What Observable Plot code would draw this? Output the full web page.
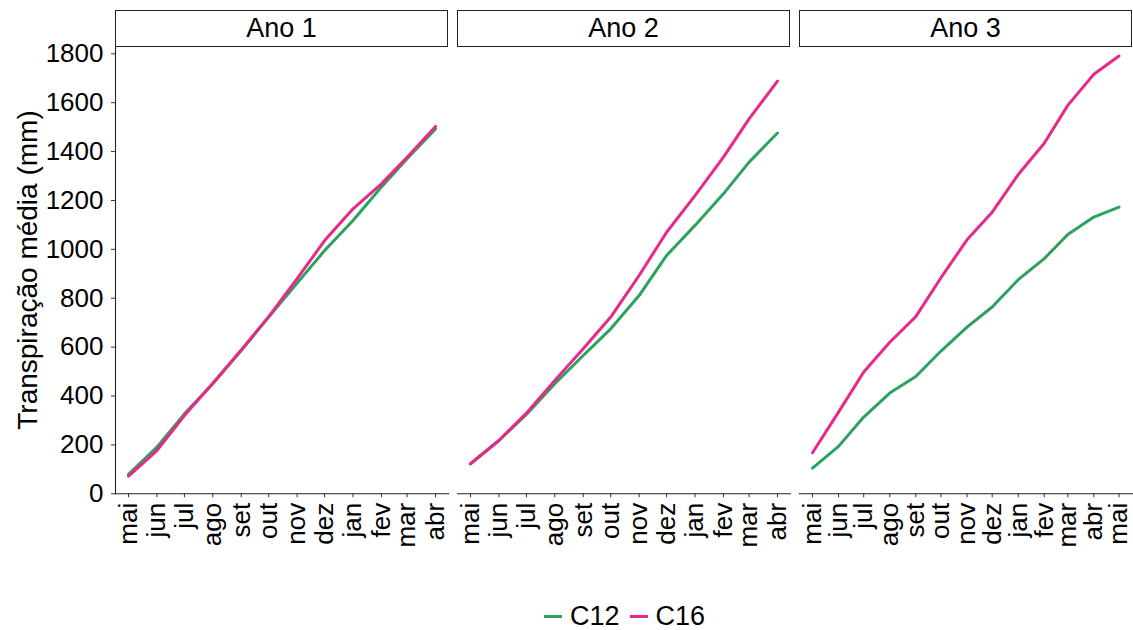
<!DOCTYPE html>
<html>
<head>
<meta charset="utf-8">
<script src="https://cdn.jsdelivr.net/npm/d3@7"></script>
<script src="https://cdn.jsdelivr.net/npm/@observablehq/plot@0.6"></script>
<style>
  body { margin: 0; background: #fff; font-family: "Liberation Sans", Arial, sans-serif; }
  #chart { position: relative; width: 1133px; height: 630px; overflow: hidden; background: #fff; }
  .strip { position: absolute; top: 10px; height: 37px; box-sizing: border-box; border: 1.2px solid #222;
           display: flex; align-items: center; justify-content: center; font-size: 27px; color: #000; background: #fff; }
  .panel { position: absolute; top: 47px; }
  .ytitle { position: absolute; left: 28px; top: 270px; transform: translate(-50%, -50%) rotate(-90deg);
            white-space: nowrap; font-size: 28px; color: #000; }
  .legend { position: absolute; top: 601px; left: 544px; display: flex; align-items: center;
            font-size: 27px; color: #000; white-space: nowrap; }
  .legend .sw { display: inline-block; width: 18px; height: 3px; margin-right: 8px; }
  .legend .item { display: flex; align-items: center; margin-right: 10px; }
</style>
</head>
<body>
<div id="chart"></div>
<script>
// ---- data ----
const monthLabels = ["jan", "fev", "mar", "abr", "mai", "jun", "jul", "ago", "set", "out", "nov", "dez"];
const yTicks = [0, 200, 400, 600, 800, 1000, 1200, 1400, 1600, 1800];
const seriesNames = ["C12", "C16"];
const seriesColors = ["#2ca25f", "#e7298a"];
const panelNames = ["Ano 1", "Ano 2", "Ano 3"];
const panelStartYear = [2012, 2013, 2014]; // each panel starts in "mai"

const ano1_C12 = [80, 191, 327, 450, 586, 723, 862, 995, 1118, 1255, 1371, 1493];
const ano1_C16 = [72, 177, 320, 452, 588, 725, 880, 1036, 1166, 1268, 1377, 1503];
const ano2_C12 = [123, 218, 325, 450, 566, 675, 811, 975, 1098, 1227, 1357, 1476];
const ano2_C16 = [123, 218, 330, 464, 593, 723, 893, 1070, 1220, 1377, 1534, 1688];
const ano3_C12 = [105, 194, 314, 412, 480, 584, 682, 764, 876, 962, 1061, 1132, 1173];
const ano3_C16 = [168, 334, 498, 620, 725, 884, 1039, 1152, 1306, 1434, 1589, 1716, 1791];

const panelSeries = [
  [ano1_C12, ano1_C16],
  [ano2_C12, ano2_C16],
  [ano3_C12, ano3_C16]
];

// ---- layout ----
const panelLeft = [0, 457, 799];
const panelWidth = [448, 333, 333];
const panelMarginLeft = [115, 0, 0];
const panelHeight = 513;

const chart = document.getElementById("chart");
const font = '"Liberation Sans", Arial, sans-serif';

panelNames.forEach((name, p) => {
  const [c12, c16] = panelSeries[p];
  const n = c12.length;
  const dates = d3.range(n).map(i => new Date(Date.UTC(panelStartYear[p], 4 + i, 1)));
  const rows = [];
  [c12, c16].forEach((vals, s) => vals.forEach((v, i) => rows.push({date: dates[i], value: v, series: seriesNames[s]})));

  const marks = [
    Plot.frame({anchor: "bottom", stroke: "#222", strokeWidth: 1.1}),
    Plot.axisX({ticks: dates, tickRotate: -90, tickSize: 4, tickPadding: 5, fontSize: 26,
                tickFormat: d => monthLabels[d.getUTCMonth()], label: null, stroke: "#333"}),
    Plot.line(rows, {x: "date", y: "value", z: "series", stroke: "series", strokeWidth: 3})
  ];
  if (p === 0) {
    marks.unshift(Plot.frame({anchor: "left", stroke: "#222", strokeWidth: 1.1}));
    marks.push(Plot.axisY({ticks: yTicks, tickSize: 4, tickPadding: 8, fontSize: 26, label: null,
                           tickFormat: d => String(d), stroke: "#333"}));
  }

  const svg = Plot.plot({
    width: panelWidth[p],
    height: panelHeight,
    marginLeft: panelMarginLeft[p],
    marginRight: 0,
    marginTop: 0,
    marginBottom: 66.7,
    insetTop: 6.3,
    insetLeft: 13,
    insetRight: p === 2 ? 13.5 : 13,
    style: {fontFamily: font, fontSize: "26px", color: "#000", background: "transparent", overflow: "visible"},
    x: {type: "utc", domain: [dates[0], dates[n - 1]], axis: null},
    y: {domain: [0, 1800], axis: null},
    color: {domain: seriesNames, range: seriesColors},
    marks
  });
  svg.classList.add("panel");
  svg.style.left = panelLeft[p] + "px";
  chart.appendChild(svg);

  const strip = document.createElement("div");
  strip.className = "strip";
  const sx = panelLeft[p] + panelMarginLeft[p];
  strip.style.left = sx + "px";
  strip.style.width = (panelLeft[p] + panelWidth[p] - sx) + "px";
  strip.textContent = name;
  chart.appendChild(strip);
});

const yt = document.createElement("div");
yt.className = "ytitle";
yt.textContent = "Transpiração média (mm)";
chart.appendChild(yt);

const legend = document.createElement("div");
legend.className = "legend";
seriesNames.forEach((s, i) => {
  const item = document.createElement("span");
  item.className = "item";
  const sw = document.createElement("span");
  sw.className = "sw";
  sw.style.background = seriesColors[i];
  item.appendChild(sw);
  const t = document.createElement("span");
  t.textContent = s;
  item.appendChild(t);
  legend.appendChild(item);
});
chart.appendChild(legend);
</script>
</body>
</html>
